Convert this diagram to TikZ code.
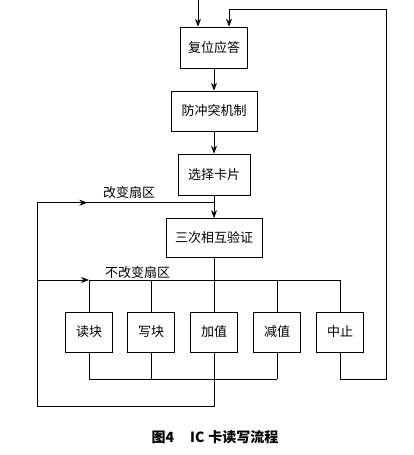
\documentclass[tikz,border=0pt]{standalone}
\usepackage{fontspec}
\setmainfont{Noto Sans CJK SC}
\usetikzlibrary{arrows.meta}
\tikzset{
	stepnode/.style = {
		rectangle,
		draw=black,
		align=center,
		inner sep=0pt,
		font=\fontsize{13}{15}\selectfont
	},
	opnode/.style = {
		stepnode,
		minimum width=47,
		minimum height=40
	},
	linelabel/.style = {
		inner sep=0pt,
		font=\fontsize{13}{15}\selectfont
	},
}
\begin{document}
\begin{tikzpicture}[x=1pt,y=-1pt,>={Stealth[length=8pt,width=6pt]},line width=0.7pt]
\useasboundingbox (0,0) rectangle (414,455);
\node [stepnode, minimum width=67, minimum height=41] (reset) at (214,47.5) {复位应答};
\node [stepnode, minimum width=86, minimum height=40] (anti) at (214,111) {防冲突机制};
\node [stepnode, minimum width=72, minimum height=41] (select) at (214,174.5) {选择卡片};
\node [stepnode, minimum width=96, minimum height=39] (auth) at (214,238) {三次相互验证};
\node [opnode] (read) at (89,332) {读块};
\node [opnode] (write) at (151,332) {写块};
\node [opnode] (add) at (214,332) {加值};
\node [opnode] (sub) at (277,332) {减值};
\node [opnode] (stop) at (340,332) {中止};
\coordinate (in) at (198,0);
\coordinate (re) at (229,9);
\coordinate (rgt) at (386.7,9);
\coordinate (ch) at (214,202.7);
\coordinate (lft) at (37.3,202.7);
\coordinate (bus) at (214,280);
\coordinate (bot) at (214,379);
\coordinate (low) at (214,406.7);
\draw [->] (in) -- (in |- reset.north);
\draw [->] (reset) -- (anti);
\draw [->] (anti) -- (select);
\draw [->] (select) -- (auth);
\draw (auth) -- (bus);
\foreach \n in {read,write,add,sub,stop}
	\draw (\n.north) -- (\n.north |- bus);
\draw (read.north |- bus) -- (stop.north |- bus);
\foreach \n in {read,write,add,sub}
	\draw (\n.south) -- (\n.south |- bot);
\draw (read.south |- bot) -- (sub.south |- bot);
\draw (add.south) -- (low) -| (lft) -- (ch);
\draw [->] (lft) -- (87.3,202.7);
\draw [->] (lft |- bus) -- (read.north |- bus);
\draw [->] (stop.south) -- (stop.south |- bot) -| (rgt) -- (re) -- (re |- reset.north);
\node [linelabel] (chlabel) at (129,193) {改变扇区};
\node [linelabel] (keeplabel) at (137.5,273) {不改变扇区};
\node [linelabel, font=\fontsize{14}{16}\selectfont\bfseries] (caption) at (215,437) {图4\hspace{16pt}IC\hspace{4pt}卡读写流程};
\end{tikzpicture}
\end{document}
